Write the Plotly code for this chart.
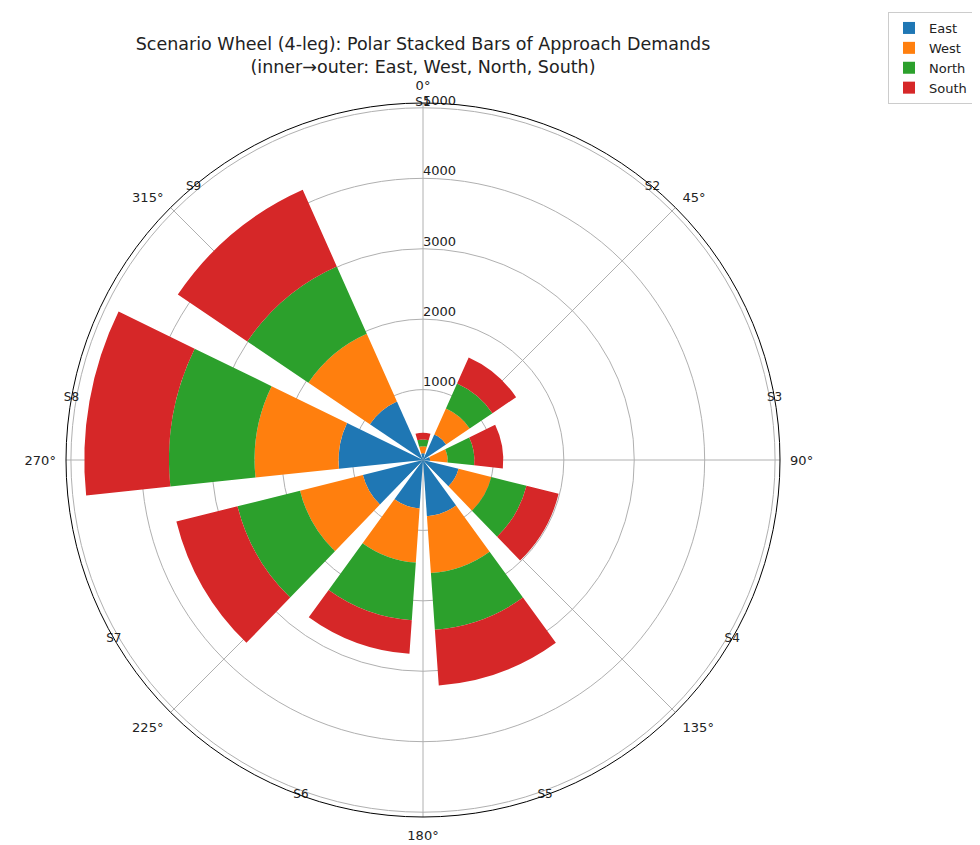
import plotly.graph_objects as go

# ---- data ----
scenarios = ["S1", "S2", "S3", "S4", "S5", "S6", "S7", "S8", "S9"]
angles_deg = [0, 40, 80, 120, 160, 200, 240, 280, 320]
east = [95, 395, 100, 520, 800, 690, 880, 1200, 910]
west = [101, 405, 250, 480, 810, 770, 920, 1192, 1053]
north = [94, 390, 380, 515, 805, 820, 915, 1216, 1047]
south = [96, 405, 410, 470, 795, 480, 895, 1202, 1190]
approaches = ["East", "West", "North", "South"]
colors = ["#1f77b4", "#ff7f0e", "#2ca02c", "#d62728"]
radial_ticks = [1000, 2000, 3000, 4000, 5000]
angle_ticks = [0, 45, 90, 135, 180, 225, 270, 315]
r_max = 5070
bar_width = 32

series = [east, west, north, south]

fig = go.Figure()
for name, vals, col in zip(approaches, series, colors):
    fig.add_trace(go.Barpolar(
        r=vals, theta=angles_deg, width=[bar_width] * len(vals),
        name=name, marker=dict(color=col, line=dict(width=0)),
    ))

# scenario labels sitting on the outer circle
fig.add_trace(go.Scatterpolar(
    r=[r_max] * len(scenarios), theta=angles_deg, mode="text",
    text=scenarios, textfont=dict(size=12, color="#222222"),
    showlegend=False, cliponaxis=False, hoverinfo="skip",
))

# radial tick labels, placed just right of the 0° spoke (matplotlib style)
fig.add_trace(go.Scatterpolar(
    r=radial_ticks, theta=[0] * len(radial_ticks), mode="text",
    text=[str(v) for v in radial_ticks], textposition="top right",
    textfont=dict(size=13, color="#222222"),
    showlegend=False, cliponaxis=False, hoverinfo="skip",
))

L, T, S = 58, 95, 714
fig.update_layout(
    width=980, height=845,
    margin=dict(l=L, r=980 - L - S, t=T, b=845 - T - S, autoexpand=False),
    paper_bgcolor="white",
    font=dict(family="DejaVu Sans", size=13, color="#222222"),
    title=dict(
        text="Scenario Wheel (4-leg): Polar Stacked Bars of Approach Demands"
             "<br>(inner→outer: East, West, North, South)",
        x=0.5, xref="paper", xanchor="center",
        y=1 - 42 / 845, yref="container", yanchor="top",
        font=dict(size=17.5),
    ),
    polar=dict(
        bgcolor="white",
        barmode="stack",
        domain=dict(x=[0, 1], y=[0, 1]),
        angularaxis=dict(
            direction="clockwise", rotation=90,
            tickmode="array", tickvals=angle_ticks,
            ticktext=[f"{a}°" for a in angle_ticks],
            showline=True, linecolor="black", linewidth=1,
            showgrid=True, gridcolor="#b0b0b0", gridwidth=1,
            ticks="outside", ticklen=7, tickcolor="rgba(0,0,0,0)",
            tickfont=dict(size=13),
        ),
        radialaxis=dict(
            range=[0, r_max], tickmode="array", tickvals=radial_ticks,
            angle=90, showticklabels=False, showline=False,
            showgrid=True, gridcolor="#b0b0b0", gridwidth=1,
            ticks="",
        ),
    ),
    legend=dict(
        x=(880 - L) / S, y=(T + S - 4) / S, xanchor="left", yanchor="top",
        bordercolor="#cccccc", borderwidth=1, bgcolor="white",
        font=dict(size=13), tracegroupgap=4,
    ),
)

fig.write_html("out.html")
